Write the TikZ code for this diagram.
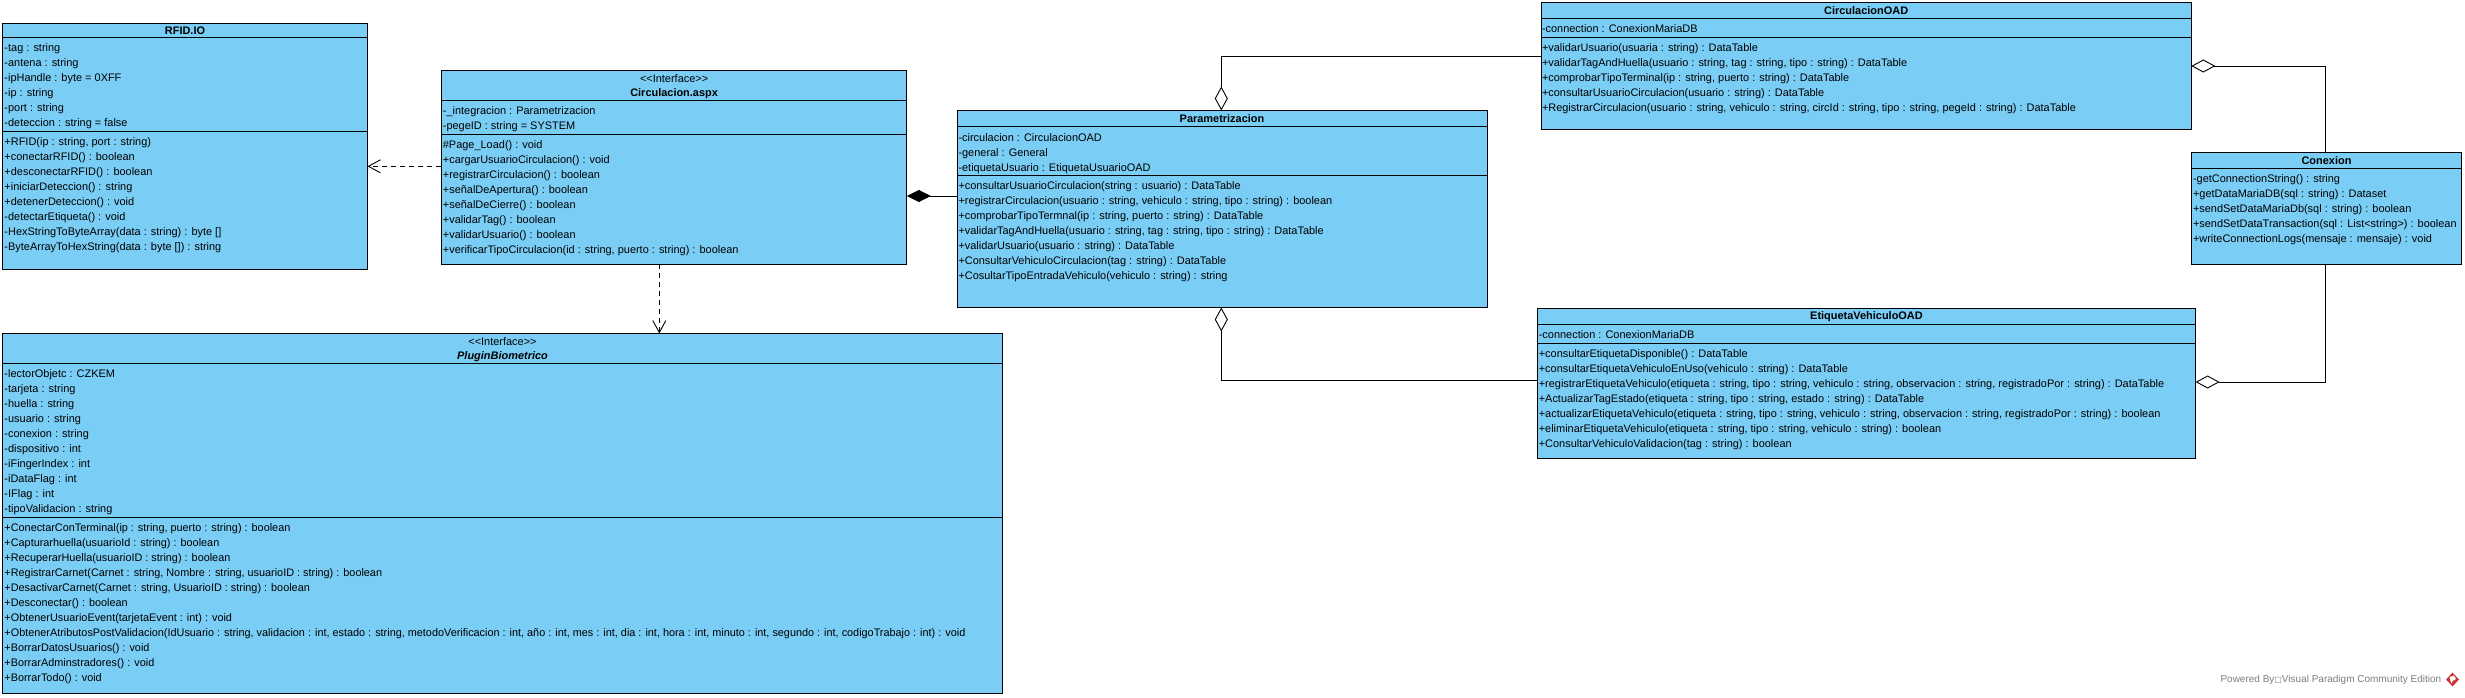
\documentclass[tikz,border=0pt]{standalone}
\usepackage{fontspec}
\usepackage{graphicx}
\usepackage{array}
\setmainfont{Liberation Sans}
\newfontfamily\boxfont{DejaVu Sans}
\usetikzlibrary{arrows.meta}
\definecolor{clsfill}{RGB}{122,205,245}
\definecolor{footgray}{RGB}{125,125,125}
\definecolor{logored}{RGB}{205,55,55}
\newcommand{\umlfont}{\fontsize{10.95}{15}\selectfont}
% \members[xscale]{name}{x}{y of first line centre}{lines}
\newcommand{\members}[5][1]{\node[memb] (#2) at (#3,#4-6.2) {\umlfont\scalebox{#1}[1]{\begin{tabular}{@{}l@{}}#5\end{tabular}}};}
\newcommand{\classbox}[5]{\node[cls,minimum width=#4-#2,minimum height=#5-#3] (#1) at ({(#2+#4)/2},{(#3+#5)/2}) {};}
\tikzset{
  cls/.style={draw=black,fill=clsfill,line width=0.9pt,rectangle,inner sep=0pt,outer sep=0pt},
  memb/.style={anchor=north west,inner sep=0pt,outer sep=0pt,text=black},
  ttl/.style={anchor=center,inner sep=0pt,outer sep=0pt,text=black,font=\umlfont},
  sepline/.style={line width=0.9pt,draw=black},
  conn/.style={line width=0.9pt,draw=black},
  dep/.style={conn,dash pattern=on 5pt off 4pt,-{Straight Barb[length=12pt,width=13pt]}},
  aggr/.style={conn,{Diamond[fill=white,length=24pt,width=13pt]}-},
  comp/.style={conn,{Diamond[fill=black,length=24pt,width=12pt]}-},
}
\begin{document}
\begin{tikzpicture}[x=1pt,y=-1pt]
\useasboundingbox (0,0) rectangle (2465,697);

% --- class boxes
\classbox{rfid}{2.5}{23.5}{367.5}{269}
\classbox{circ}{441.4}{70.5}{906.8}{264}
\classbox{param}{957}{110.5}{1487}{307.5}
\classbox{plugin}{2.5}{333.5}{1002.5}{693}
\classbox{coad}{1541}{2.5}{2191.3}{129.5}
\classbox{eoad}{1537.4}{308.5}{2195.6}{458.5}
\classbox{conex}{2191.5}{152.5}{2461.5}{264}

% --- compartments
\draw[sepline] (rfid.west |- 0,37.5) -- (rfid.east |- 0,37.5);
\draw[sepline] (rfid.west |- 0,131) -- (rfid.east |- 0,131);
\draw[sepline] (circ.west |- 0,100.5) -- (circ.east |- 0,100.5);
\draw[sepline] (circ.west |- 0,134.5) -- (circ.east |- 0,134.5);
\draw[sepline] (param.west |- 0,126.5) -- (param.east |- 0,126.5);
\draw[sepline] (param.west |- 0,175.5) -- (param.east |- 0,175.5);
\draw[sepline] (plugin.west |- 0,363.5) -- (plugin.east |- 0,363.5);
\draw[sepline] (plugin.west |- 0,517.5) -- (plugin.east |- 0,517.5);
\draw[sepline] (coad.west |- 0,18.5) -- (coad.east |- 0,18.5);
\draw[sepline] (coad.west |- 0,37.5) -- (coad.east |- 0,37.5);
\draw[sepline] (eoad.west |- 0,324.5) -- (eoad.east |- 0,324.5);
\draw[sepline] (eoad.west |- 0,343.5) -- (eoad.east |- 0,343.5);
\draw[sepline] (conex.west |- 0,168.5) -- (conex.east |- 0,168.5);

% --- titles
\node[ttl,font=\umlfont\bfseries] (rfidt) at (rfid.center |- 0,31) {RFID.IO};
\node[ttl] (circs) at (circ.center |- 0,78.3) {{<}{<}Interface{>}{>}};
\node[ttl,font=\umlfont\bfseries] (circt) at (circ.center |- 0,93.8) {Circulacion.aspx};
\node[ttl,font=\umlfont\bfseries] (paramt) at (param.center |- 0,119) {Parametrizacion};
\node[ttl] (plugins) at (plugin.center |- 0,341.3) {{<}{<}Interface{>}{>}};
\node[ttl,font=\umlfont\bfseries\itshape] (plugint) at (plugin.center |- 0,356.8) {PluginBiometrico};
\node[ttl,font=\umlfont\bfseries] (coadt) at (coad.center |- 0,11) {CirculacionOAD};
\node[ttl,font=\umlfont\bfseries] (eoadt) at (eoad.center |- 0,317) {EtiquetaVehiculoOAD};
\node[ttl,font=\umlfont\bfseries] (conext) at (conex.center |- 0,161) {Conexion};

% --- members
\members{rfida}{4.5}{47.3}{-tag : string\\-antena : string\\-ipHandle : byte = 0XFF\\-ip : string\\-port : string\\-deteccion : string = false}
\members{rfido}{4.5}{141.3}{+RFID(ip : string, port : string)\\+conectarRFID() : boolean\\+desconectarRFID() : boolean\\+iniciarDeteccion() : string\\+detenerDeteccion() : void\\-detectarEtiqueta() : void\\-HexStringToByteArray(data : string) : byte []\\-ByteArrayToHexString(data : byte []) : string}
\members{circa}{442.9}{110.3}{-\_integracion : Parametrizacion\\-pegeID : string = SYSTEM}
\members{circo}{442.9}{144.3}{\#Page\_Load() : void\\+cargarUsuarioCirculacion() : void\\+registrarCirculacion() : boolean\\+señalDeApertura() : boolean\\+señalDeCierre() : boolean\\+validarTag() : boolean\\+validarUsuario() : boolean\\+verificarTipoCirculacion(id : string, puerto : string) : boolean}
\members{parama}{958.5}{136.7}{-circulacion : CirculacionOAD\\-general : General\\-etiquetaUsuario : EtiquetaUsuarioOAD}
\members{paramo}{958.5}{185}{+consultarUsuarioCirculacion(string : usuario) : DataTable\\+registrarCirculacion(usuario : string, vehiculo : string, tipo : string) : boolean\\+comprobarTipoTermnal(ip : string, puerto : string) : DataTable\\+validarTagAndHuella(usuario : string, tag : string, tipo : string) : DataTable\\+validarUsuario(usuario : string) : DataTable\\+ConsultarVehiculoCirculacion(tag : string) : DataTable\\+CosultarTipoEntradaVehiculo(vehiculo : string) : string}
\members{plugina}{4.5}{373.3}{-lectorObjetc : CZKEM\\-tarjeta : string\\-huella : string\\-usuario : string\\-conexion : string\\-dispositivo : int\\-iFingerIndex : int\\-iDataFlag : int\\-IFlag : int\\-tipoValidacion : string}
\members[0.992]{plugino}{4.5}{527.3}{+ConectarConTerminal(ip : string, puerto : string) : boolean\\+Capturarhuella(usuarioId : string) : boolean\\+RecuperarHuella(usuarioID : string) : boolean\\+RegistrarCarnet(Carnet : string, Nombre : string, usuarioID : string) : boolean\\+DesactivarCarnet(Carnet : string, UsuarioID : string) : boolean\\+Desconectar() : boolean\\+ObtenerUsuarioEvent(tarjetaEvent : int) : void\\+ObtenerAtributosPostValidacion(IdUsuario : string, validacion : int, estado : string, metodoVerificacion : int, año : int, mes : int, dia : int, hora : int, minuto : int, segundo : int, codigoTrabajo : int) : void\\+BorrarDatosUsuarios() : void\\+BorrarAdminstradores() : void\\+BorrarTodo() : void}
\members{coada}{1542}{28.3}{-connection : ConexionMariaDB}
\members{coado}{1542}{47.3}{+validarUsuario(usuaria : string) : DataTable\\+validarTagAndHuella(usuario : string, tag : string, tipo : string) : DataTable\\+comprobarTipoTerminal(ip : string, puerto : string) : DataTable\\+consultarUsuarioCirculacion(usuario : string) : DataTable\\+RegistrarCirculacion(usuario : string, vehiculo : string, circId : string, tipo : string, pegeId : string) : DataTable}
\members{eoada}{1538.8}{334.3}{-connection : ConexionMariaDB}
\members{eoado}{1538.8}{353.3}{+consultarEtiquetaDisponible() : DataTable\\+consultarEtiquetaVehiculoEnUso(vehiculo : string) : DataTable\\+registrarEtiquetaVehiculo(etiqueta : string, tipo : string, vehiculo : string, observacion : string, registradoPor : string) : DataTable\\+ActualizarTagEstado(etiqueta : string, tipo : string, estado : string) : DataTable\\+actualizarEtiquetaVehiculo(etiqueta : string, tipo : string, vehiculo : string, observacion : string, registradoPor : string) : boolean\\+eliminarEtiquetaVehiculo(etiqueta : string, tipo : string, vehiculo : string) : boolean\\+ConsultarVehiculoValidacion(tag : string) : boolean}
\members{conexo}{2193}{178.3}{-getConnectionString() : string\\+getDataMariaDB(sql : string) : Dataset\\+sendSetDataMariaDb(sql : string) : boolean\\+sendSetDataTransaction(sql : List<string>) : boolean\\+writeConnectionLogs(mensaje : mensaje) : void}

% --- connectors
\draw[dep] (circ.west |- 0,166.3) -- (rfid.east |- 0,166.3);
\draw[dep] (circ.south -| 659.3,0) -- (plugin.north -| 659.3,0);
\draw[comp] (circ.east |- 0,196) -- (param.west |- 0,196);
\draw[aggr] (param.north -| 1221.3,0) -- (1221.3,56) -- (coad.west |- 0,56);
\draw[aggr] (param.south -| 1221.3,0) -- (1221.3,380) -- (eoad.west |- 0,380);
\draw[aggr] (coad.east |- 0,66) -- (2325.3,66) -- (conex.north -| 2325.3,0);
\draw[aggr] (eoad.east |- 0,382) -- (2325.3,382) -- (conex.south -| 2325.3,0);

% --- footer
\node[anchor=east,inner sep=0pt,text=footgray,font=\fontsize{10}{12}\selectfont] (foot) at (2441.5,680) {Powered By{\boxfont\fontsize{8}{8}\selectfont □}Visual Paradigm Community Edition};
\fill[logored] (2452.5,672.5) -- (2459,679.5) -- (2452.5,686.5) -- (2446,679.5) -- cycle;
\fill[white] (2449.5,677) -- (2454,675.5) -- (2456,679) -- (2452.5,681) -- (2451.5,683.5) -- (2450.5,681) -- cycle;
\end{tikzpicture}
\end{document}
